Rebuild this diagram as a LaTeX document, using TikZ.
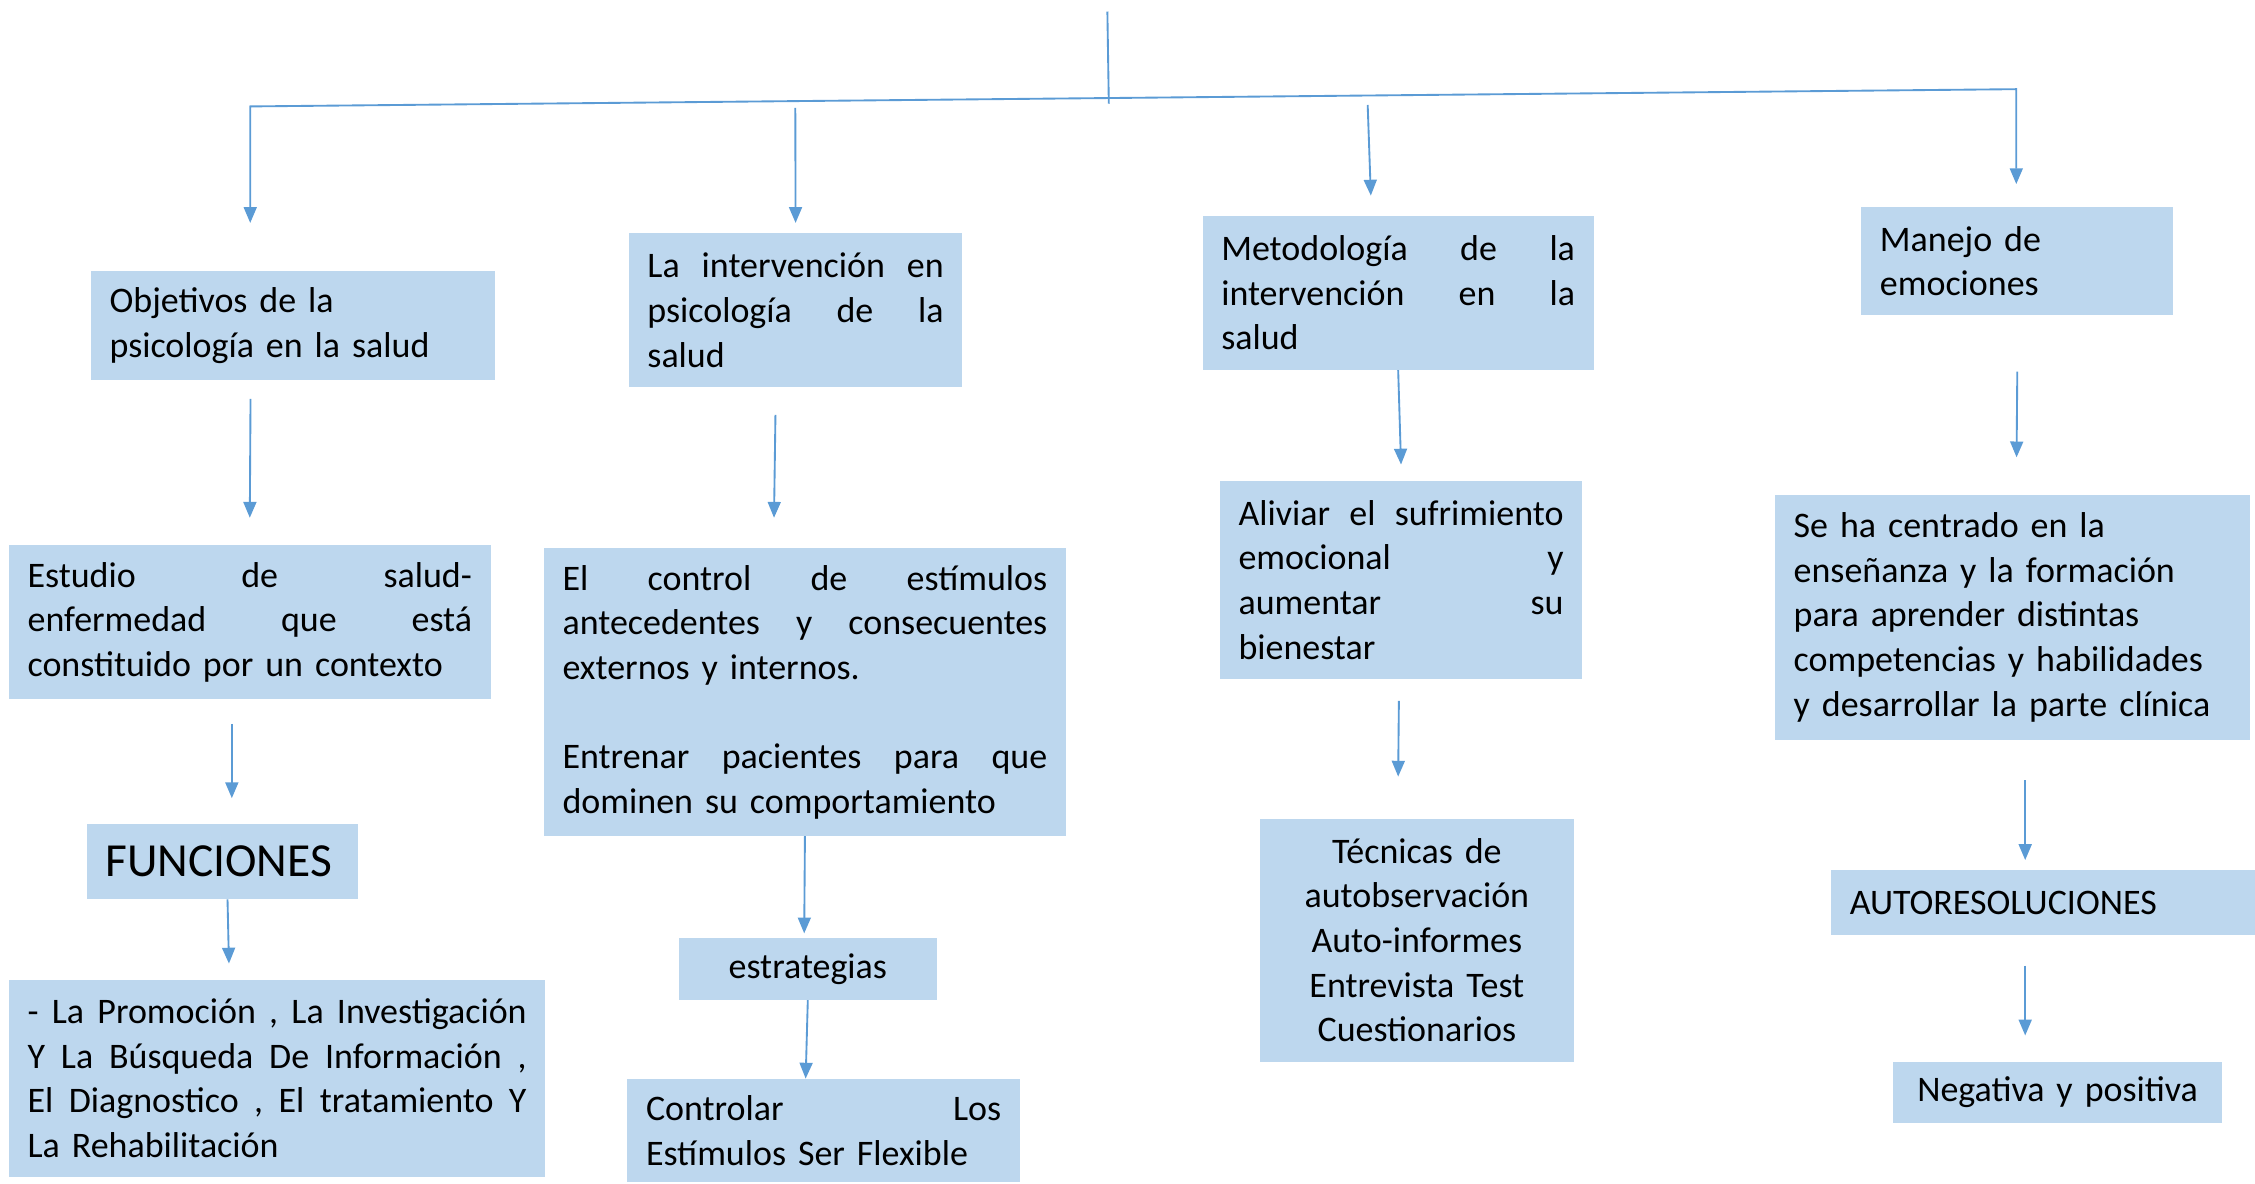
\documentclass[tikz,border=0pt]{standalone}
\usepackage{fontspec}
\setmainfont{Carlito}
\usetikzlibrary{arrows.meta,positioning}
\definecolor{boxblue}{HTML}{BDD7EE}
\definecolor{linkblue}{HTML}{5B9BD5}

\begin{document}
\begin{tikzpicture}[x=1pt,y=-1pt,
  box/.style={fill=boxblue,anchor=north west,inner xsep=13pt,inner ysep=0pt,
    align=left,font=\fontsize{25}{31}\selectfont},
  link/.style={draw=linkblue,line width=1.3pt},
  arr/.style={link,-{Triangle[width=9pt,length=11pt]}}]
  \useasboundingbox (0,0) rectangle (1568,823);
  \node[box,text width=255pt,minimum height=76pt] (obj) at (63,188)
    {Objetivos de la\\psicología en la salud};
  \node[box,text width=206pt,minimum height=107pt] (interv) at (437,162)
    {La\hfill intervención\hfill en\\psicología\hfill de\hfill la\\salud};
  \node[box,text width=246pt,minimum height=107pt] (metod) at (836,150)
    {Metodología\hfill de\hfill la\\intervención\hfill en\hfill la\\salud};
  \node[box,text width=191pt,minimum height=75pt] (manejo) at (1294,144)
    {Manejo de\\emociones};
  \node[box,text width=309pt,minimum height=107pt] (estudio) at (6,379)
    {Estudio\hfill de\hfill salud-\\enfermedad\hfill que\hfill está\\constituido por un contexto};
  \node[box,text width=337pt,minimum height=200pt] (control) at (378,381)
    {El\hfill control\hfill de\hfill estímulos\\antecedentes\hfill y\hfill consecuentes\\externos y internos.\\[31pt]Entrenar\hfill pacientes\hfill para\hfill que\\dominen su comportamiento};
  \node[box,text width=226pt,minimum height=138pt] (aliviar) at (848,334)
    {Aliviar\hfill el\hfill sufrimiento\\emocional\hfill y\\aumentar\hfill su\\bienestar};
  \node[box,text width=304pt,minimum height=170pt] (centrado) at (1234,344)
    {Se ha centrado en la\\enseñanza y la formación\\para aprender distintas\\competencias y habilidades\\y desarrollar la parte clínica};
  \node[box,text width=163pt,minimum height=52pt,font=\fontsize{33}{38}\selectfont] (funciones) at (60,573)
    {FUNCIONES};
  \node[box,text width=347pt,minimum height=137pt] (promocion) at (6,681)
    {-\hfill La\hfill Promoción\hfill ,\hfill La\hfill Investigación\\Y\hfill La\hfill Búsqueda\hfill De\hfill Información\hfill ,\\El\hfill Diagnostico\hfill ,\hfill El\hfill tratamiento\hfill Y\\La Rehabilitación};
  \node[box,text width=153pt,minimum height=43pt,align=center] (estrategias) at (472,652)
    {estrategias};
  \node[box,text width=247pt,minimum height=72pt] (controlar) at (436,750)
    {Controlar\hfill Los\\Estímulos Ser Flexible};
  \node[box,text width=192pt,minimum height=169pt,align=center] (tecnicas) at (876,569)
    {Técnicas de\\autobservación\\Auto-informes\\Entrevista Test\\Cuestionarios};
  \node[box,text width=269pt,minimum height=45pt] (autores) at (1273,605)
    {AUTORESOLUCIONES};
  \node[box,text width=203pt,minimum height=43pt,align=center] (negativa) at (1316,738)
    {Negativa y positiva};
  \coordinate (top) at (770,8);
  \coordinate (hub) at (771,72);
  \coordinate (tl) at (174,74);
  \coordinate (tr) at (1402,62);
  \coordinate (tlend) at (174,155);
  \coordinate (trend) at (1402,128);
  \coordinate (b2) at (553,75);
  \coordinate (b3) at (951,73);
  \draw[link] (top) -- (hub);
  \draw[link,{Triangle[width=9pt,length=11pt]}-{Triangle[width=9pt,length=11pt]}]
    (tlend) -- (tl) -- (tr) -- (trend);
  \draw[arr] (b2) -- ([yshift=7pt]interv.north);
  \draw[arr] (b3) -- ([xshift=-19pt,yshift=14pt]metod.north);
  \draw[arr] ([xshift=-29.5pt,yshift=-13pt]obj.south) -- ([yshift=19pt]estudio.north);
  \draw[arr] ([xshift=-14pt,yshift=-19pt]interv.south) -- ([xshift=-21.5pt,yshift=21pt]control.north);
  \draw[arr] (metod.south) -- ([yshift=11pt]aliviar.north);
  \draw[arr] ([yshift=-39pt]manejo.south) -- ([xshift=3pt,yshift=26pt]centrado.north);
  \draw[arr] ([xshift=-12.5pt,yshift=-17pt]estudio.south) -- ([xshift=6.5pt,yshift=18pt]funciones.north);
  \draw[arr] ([xshift=3.5pt]funciones.south) -- ([xshift=-33.5pt,yshift=11pt]promocion.north);
  \draw[arr] (control.south) -- ([xshift=-2.5pt,yshift=3pt]estrategias.north);
  \draw[arr] (estrategias.south) -- ([xshift=-12.5pt]controlar.north);
  \draw[arr] ([xshift=-1.5pt,yshift=-15pt]aliviar.south) -- ([xshift=-13pt,yshift=29pt]tecnicas.north);
  \draw[arr] ([xshift=9pt,yshift=-28pt]centrado.south) -- ([xshift=-12.5pt,yshift=7pt]autores.north);
  \draw[arr] ([xshift=-12.5pt,yshift=-21pt]autores.south) -- ([xshift=-22.5pt,yshift=18pt]negativa.north);
\end{tikzpicture}
\end{document}
